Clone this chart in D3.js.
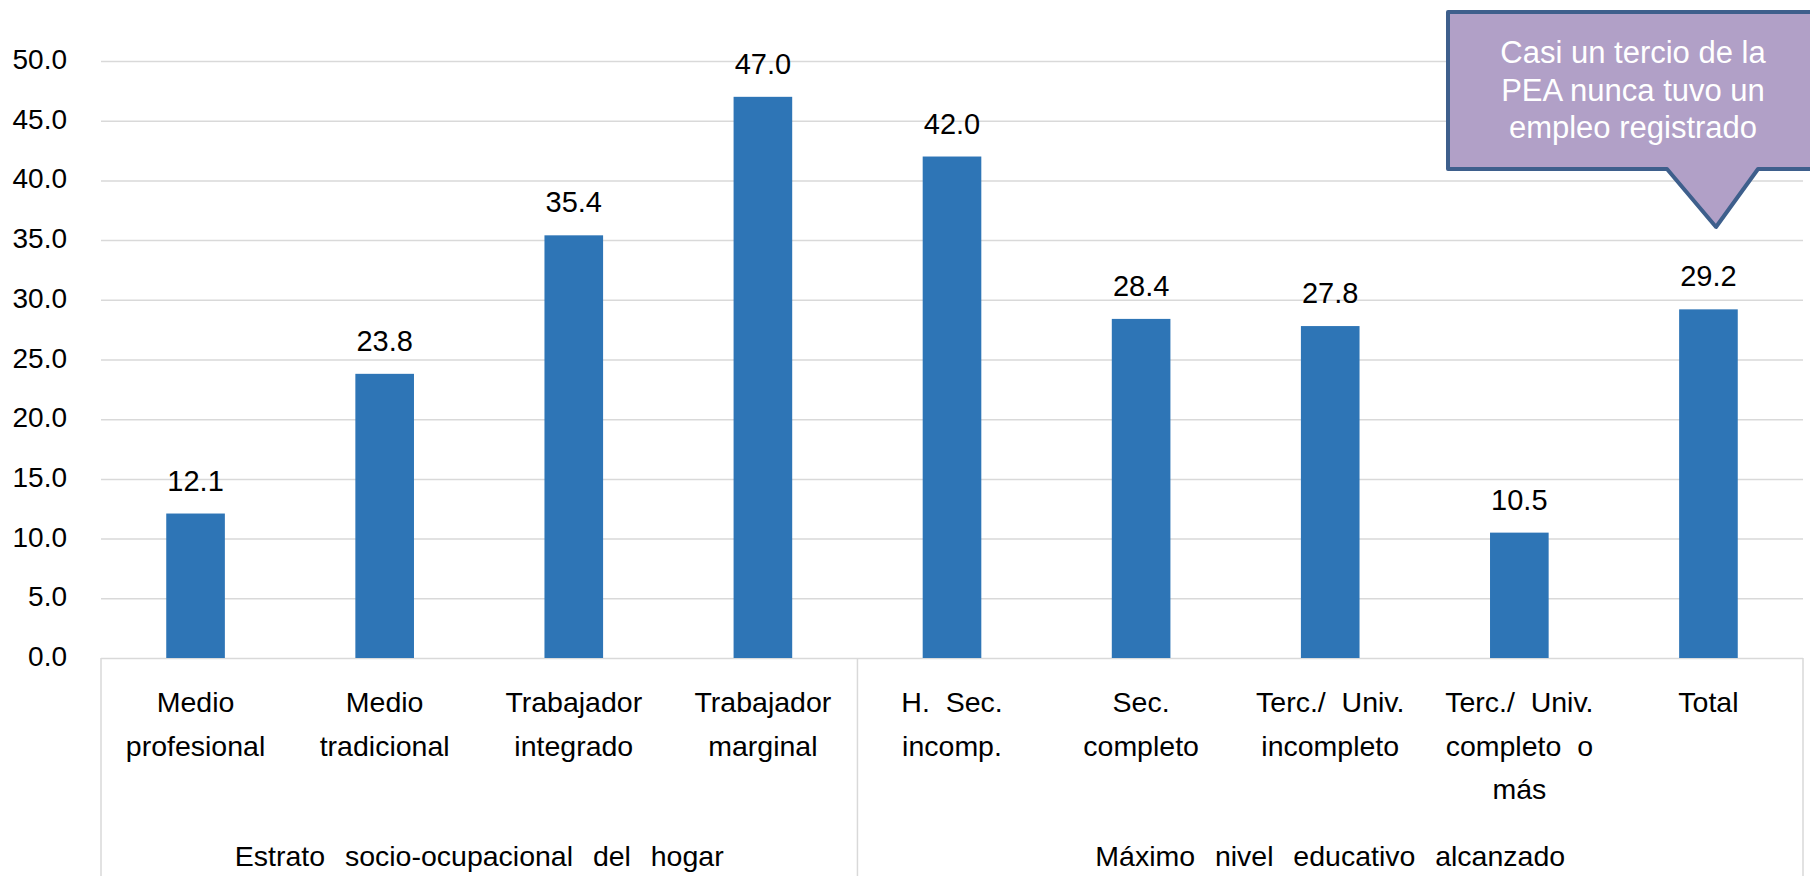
<!DOCTYPE html>
<html lang="es">
<head>
<meta charset="utf-8">
<title>PEA nunca tuvo un empleo registrado</title>
<style>
    body { margin: 0; background: #fff; }
    svg { display: block; font-family: "Liberation Sans", Arial, sans-serif; }
    text { white-space: pre; }
</style>
</head>
<body>
    <svg id="chart" width="1810" height="876"></svg>
<script src="https://d3js.org/d3.v7.min.js"></script>
<script>
    // categories, each one split into its label lines
    const categories = [
        ["Medio", "profesional"],
        ["Medio", "tradicional"],
        ["Trabajador", "integrado"],
        ["Trabajador", "marginal"],
        ["H.  Sec.", "incomp."],
        ["Sec.", "completo"],
        ["Terc./  Univ.", "incompleto"],
        ["Terc./  Univ.", "completo  o", "más"],
        ["Total"]
    ]
    const values = [12.1, 23.8, 35.4, 47.0, 42.0, 28.4, 27.8, 10.5, 29.2]
    const groups = ["Estrato  socio-ocupacional  del  hogar", "Máximo  nivel  educativo  alcanzado"]
    const groupSizes = [4, 5]
    const yTicks = [0, 5, 10, 15, 20, 25, 30, 35, 40, 45, 50]
    const calloutLines = ["Casi un tercio de la", "PEA nunca tuvo un", "empleo registrado"]

    const plotLeft = 101, plotRight = 1803, plotTop = 61, plotBottom = 658
    const svg = d3.select("#chart")

    let x = d3.scaleBand()
        .domain(d3.range(values.length))
        .range([plotLeft, plotRight])
        .paddingInner(0.69)
        .paddingOuter(0.345)
    let y = d3.scaleLinear()
        .domain([0, 50])
        .range([plotBottom, plotTop])

    // edge of a category slot (before category i)
    const edge = i => i < values.length ? x(i) + x.bandwidth() / 2 - x.step() / 2 : plotRight

    // gridlines
    svg.append("g")
        .attr("transform", `translate(${plotLeft},0)`)
        .call(d3.axisLeft(y).tickValues(yTicks).tickSize(-(plotRight - plotLeft)).tickFormat(""))
        .call(g => g.select(".domain").remove())
        .call(g => g.selectAll("line").attr("stroke", "#d9d9d9").attr("stroke-width", 1.5))

    // y tick labels
    svg.append("g")
        .attr("transform", `translate(${plotLeft},0)`)
        .call(d3.axisLeft(y).tickValues(yTicks).tickSize(0).tickPadding(34).tickFormat(d3.format(".1f")))
        .call(g => g.select(".domain").remove())
        .call(g => g.selectAll("text")
            .attr("font-family", null)
            .attr("font-size", 28)
            .attr("fill", "#000")
            .attr("dy", "0.27em"))

    // category box lines
    let cuts = [0]
    groupSizes.forEach(n => cuts.push(cuts[cuts.length - 1] + n))
    svg.append("g").selectAll("line")
        .data(cuts)
        .join("line")
        .attr("x1", d => edge(d))
        .attr("x2", d => edge(d))
        .attr("y1", plotBottom)
        .attr("y2", 876)
        .attr("stroke", "#d9d9d9")
        .attr("stroke-width", 1.5)

    // bars
    svg.append("g").selectAll("rect")
        .data(values)
        .join("rect")
        .attr("x", (d, i) => x(i))
        .attr("y", d => y(d))
        .attr("width", x.bandwidth())
        .attr("height", d => plotBottom - y(d))
        .attr("fill", "#2e75b6")

    // value labels
    svg.append("g").selectAll("text")
        .data(values)
        .join("text")
        .attr("x", (d, i) => x(i) + x.bandwidth() / 2)
        .attr("y", d => y(d) - 23)
        .attr("text-anchor", "middle")
        .attr("font-size", 29)
        .attr("fill", "#000")
        .text(d => d3.format(".1f")(d))

    // category labels
    let cat = svg.append("g").selectAll("text")
        .data(categories)
        .join("text")
        .attr("text-anchor", "middle")
        .attr("font-size", 28.5)
        .attr("fill", "#000")
    cat.selectAll("tspan")
        .data((d, i) => d.map(t => ({t, i})))
        .join("tspan")
        .attr("x", d => x(d.i) + x.bandwidth() / 2)
        .attr("y", (d, j) => 712 + j * 43.5)
        .text(d => d.t)

    // group labels
    svg.append("g").selectAll("text")
        .data(groups)
        .join("text")
        .attr("x", (d, i) => (edge(cuts[i]) + edge(cuts[i + 1])) / 2)
        .attr("y", 866)
        .attr("text-anchor", "middle")
        .attr("font-size", 28.5)
        .attr("word-spacing", 2)
        .attr("fill", "#000")
        .text(d => d)

    // callout
    svg.append("path")
        .attr("d", "M1448,12 H1818 V169 H1758 L1716,227 L1667,169 H1448 Z")
        .attr("fill", "#b1a0c7")
        .attr("stroke", "#3e5f8c")
        .attr("stroke-width", 4)
        .attr("stroke-linejoin", "round")
    svg.append("g").selectAll("text")
        .data(calloutLines)
        .join("text")
        .attr("x", 1633)
        .attr("y", (d, i) => 63 + i * 37.7)
        .attr("text-anchor", "middle")
        .attr("font-size", 31)
        .attr("fill", "#fff")
        .text(d => d)
</script>
</body>
</html>
